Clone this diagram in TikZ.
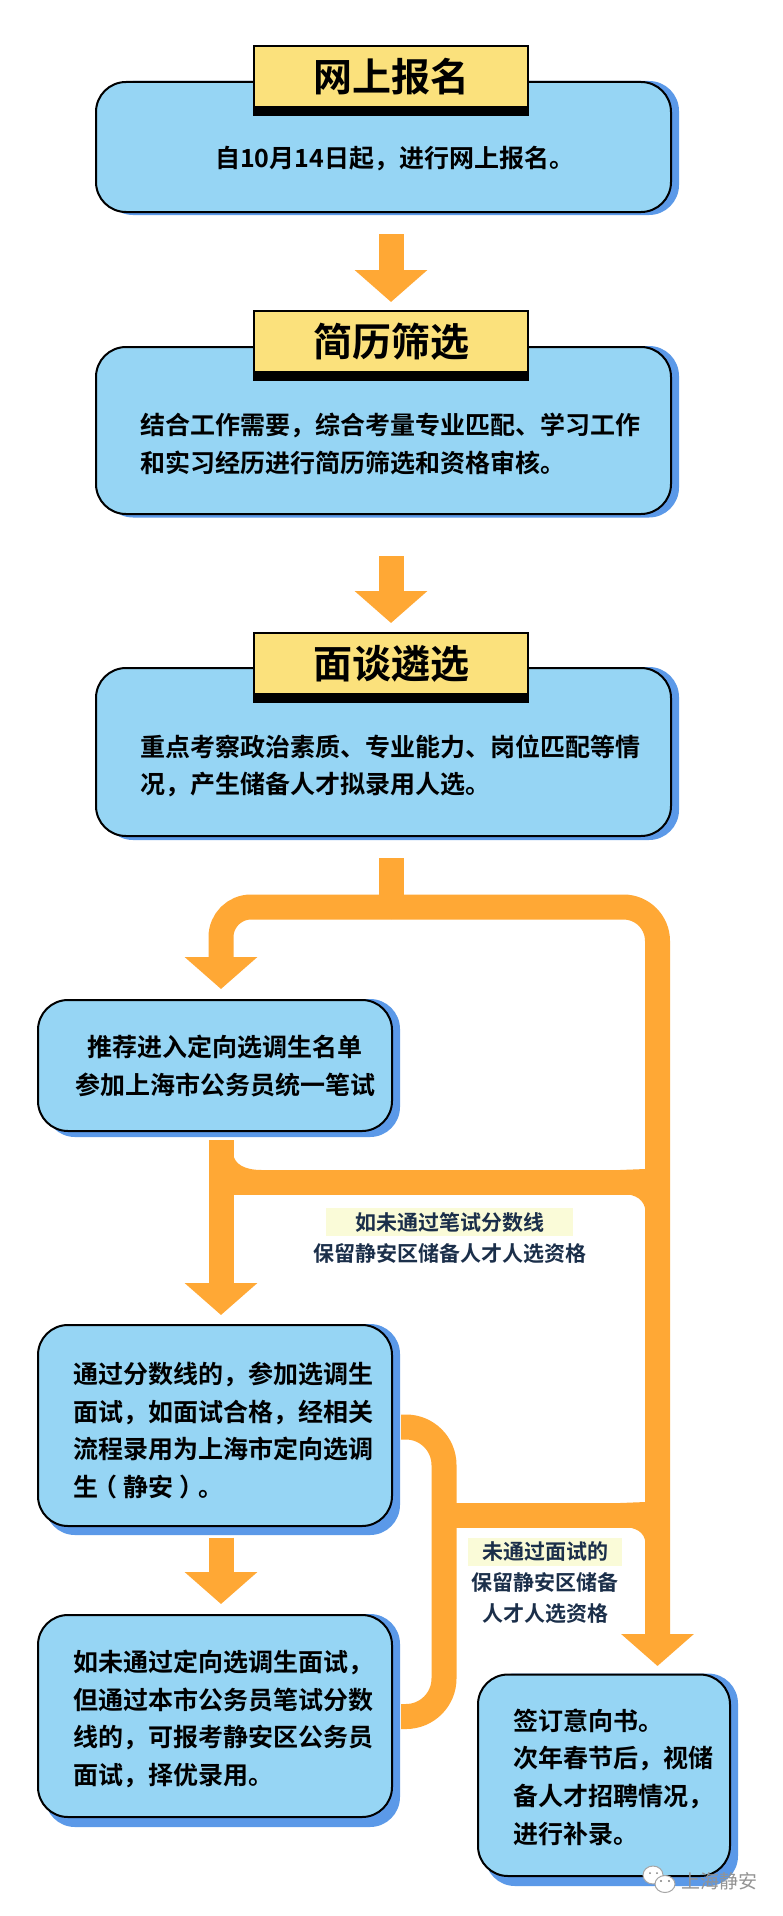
\documentclass[tikz,border=0pt]{standalone}
\usepackage{fontspec}
\usetikzlibrary{arrows.meta}
\setmainfont[BoldFont={Noto Sans CJK SC Bold}]{Noto Sans CJK SC}
\definecolor{panelblue}{HTML}{96D5F4}
\definecolor{shadeblue}{HTML}{5B99E8}
\definecolor{flowc}{HTML}{FFA835}
\definecolor{titley}{HTML}{FBE17C}
\definecolor{notey}{HTML}{FAFBD8}
\definecolor{navy}{HTML}{1B2F4A}
\tikzset{
  panel/.style={draw=black,line width=2pt,fill=panelblue,rounded corners=30pt,inner sep=0pt},
  titlebox/.style={draw=black,line width=2pt,fill=titley,inner sep=0pt,minimum width=274pt,minimum height=61pt,font=\fontsize{39}{42}\selectfont\bfseries},
  body/.style={font=\fontsize{25}{37.6}\selectfont\bfseries,align=left,inner sep=0pt,text=black},
  note/.style={font=\fontsize{21}{31}\selectfont\bfseries,align=center,inner sep=0pt,text=navy},
  flow/.style={draw=flowc,line width=25pt},
  flowtip/.style={flow,-{Triangle[length=32pt,width=71pt]}},
}
% name, left, top, right, bottom, shadow below the bottom edge
\newcommand{\panelbox}[6]{%
  \fill[shadeblue,rounded corners=30pt] (#2+8,#3) rectangle (#4+7,#5+#6);
  \node[panel,anchor=north west,minimum width=#4pt-#2pt-2pt,minimum height=#5pt-#3pt-2pt] (#1) at (#2,#3) {};
}
\begin{document}
\begin{tikzpicture}[x=1pt,y=-1pt]
\useasboundingbox (0,0) rectangle (782,1916);
\fill[white] (0,0) rectangle (782,1916);
% flows: coordinates
\coordinate (s1) at (391,234);
\coordinate (t1) at (391,302);
\coordinate (s2) at (391,556);
\coordinate (t2) at (391,623);
\coordinate (s3) at (391,858);
\coordinate (j3) at (391,907);
\coordinate (tl) at (221,989);
\coordinate (tr) at (657.5,1666);
\coordinate (s4) at (221,1140);
\coordinate (t4) at (221,1315);
\coordinate (s5) at (221,1537.5);
\coordinate (t5) at (221,1604);
\coordinate (b1l) at (221,1182);
\coordinate (b1r) at (657.5,1182);
\coordinate (c1) at (401,1427);
\coordinate (c2) at (401,1716.5);
\coordinate (b2l) at (444,1515);
\coordinate (b2r) at (657.5,1515);
% flows
\draw[flowtip] (s1) -- (t1);
\draw[flowtip] (s2) -- (t2);
\draw[flow] (s3) -- (j3);
\draw[flowtip,rounded corners=30pt] (j3) -| (tl);
\draw[flowtip,rounded corners=34pt] (j3) -| (tr);
\draw[flowtip] (s4) -- (t4);
\draw[flowtip] (s5) -- (t5);
\draw[flow] (b1l) -- (b1r);
\draw[flow] (b2l) -- (b2r);
\draw[flow,rounded corners=38pt] (c1) -- (444,1427) -- (444,1716.5) -- (c2);
% junction fillets
\fill[flowc] (233,1153) .. controls (234,1164) and (244,1170) .. (262,1170) -- (233,1172) -- cycle;
\fill[flowc] (233,1189) .. controls (240,1192) and (248,1194) .. (260,1194.5) -- (233,1193) -- cycle;
\fill[flowc] (620,1170) .. controls (630,1170) and (638,1172) .. (645.5,1176) -- (645.5,1169) -- cycle;
\fill[flowc] (622,1194) .. controls (636,1194) and (644.5,1200) .. (645.5,1211) -- (645.5,1192) -- cycle;
\fill[flowc] (620,1503) .. controls (630,1503) and (638,1505) .. (645.5,1509) -- (645.5,1502) -- cycle;
\fill[flowc] (622,1527) .. controls (636,1527) and (644.5,1532) .. (645.5,1543) -- (645.5,1525) -- cycle;
% panels
\panelbox{p1}{95}{81}{672}{213}{2}
\panelbox{p2}{95}{346}{672}{515}{2.5}
\panelbox{p3}{95}{667}{672}{837}{3}
\panelbox{p4}{37}{999}{393}{1132}{5}
\panelbox{p5}{37}{1324}{393}{1527}{8}
\panelbox{p6}{37}{1614}{393}{1818}{9}
\panelbox{p7}{477}{1673.5}{731}{1877}{9}
% titles
\foreach \nm/\yy/\tx in {t1/45/网上报名,t2/310/简历筛选,t3/632/面谈遴选}{
  \fill[black] (253,\yy+55) rectangle (529,\yy+71);
  \node[titlebox,anchor=north west] (\nm box) at (253,\yy) {\raisebox{1pt}{\tx}};
}
% body text
\node[body,anchor=west] (x1) at (215,159) {自10月14日起，进行网上报名。};
\node[body,anchor=west] (x2) at (140,444) {结合工作需要，综合考量专业匹配、学习工作\\和实习经历进行简历筛选和资格审核。};
\node[body,anchor=west] (x3) at (140,766) {重点考察政治素质、专业能力、岗位匹配等情\\况，产生储备人才拟录用人选。};
\node[body,align=center,anchor=center] (x4) at (225,1066) {推荐进入定向选调生名单\\参加上海市公务员统一笔试};
\node[body,anchor=west] (x5) at (73,1430.5) {通过分数线的，参加选调生\\面试，如面试合格，经相关\\流程录用为上海市定向选调\\生\kern-6pt（\kern6pt 静安\kern6pt）\kern-6pt。};
\node[body,anchor=west] (x6) at (73,1719) {如未通过定向选调生面试，\\但通过本市公务员笔试分数\\线的，可报考静安区公务员\\面试，择优录用。};
\node[body,anchor=west] (x7) at (513,1777) {签订意向书。\\次年春节后，视储\\备人才招聘情况，\\进行补录。};
% notes
\fill[notey] (326,1208) rectangle (573,1236);
\node[note] (n1) at (450,1238) {如未通过笔试分数线\\保留静安区储备人才人选资格};
\fill[notey] (468,1537.5) rectangle (622,1565.5);
\node[note] (n2) at (545,1583) {未通过面试的\\保留静安区储备\\人才人选资格};
% watermark
\fill[white,draw=gray!70,line width=1pt] (653,1875) ellipse (10pt and 9pt);
\fill[white,draw=gray!70,line width=1pt] (665,1884) ellipse (10pt and 8.5pt);
\fill[gray] (650,1873) circle (1pt) (657,1873) circle (1pt) (661,1881) circle (1.2pt) (669,1881) circle (1.2pt);
\node[font=\fontsize{19}{20}\selectfont,text=gray!85,inner sep=0pt] (wm) at (719.5,1881) {上海静安};
\end{tikzpicture}
\end{document}
